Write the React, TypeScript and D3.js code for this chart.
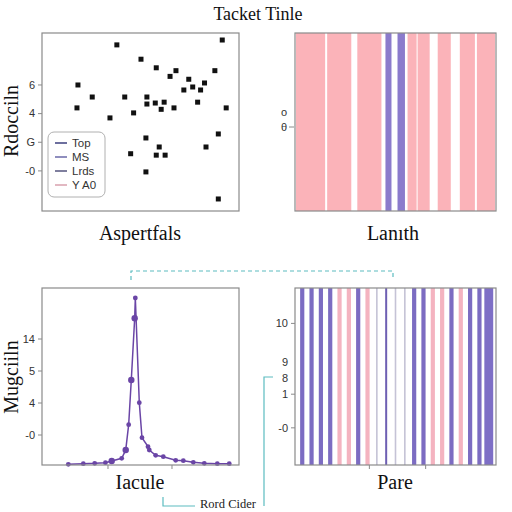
import React from "react";
import * as d3 from "d3";

// ---------- data ----------
const titleText = "Tacket Tinle";

// Panel A: scatter
const scatterX = [3.65, 3.55, 5.1, 7.6, 6.9, 8.4, 9.3, 9.0, 10.05, 10.55, 10.55, 10.65, 10.65, 11.5, 11.6, 11.9, 11.6, 12.1, 12.4, 12.5, 13.0, 13.6, 13.4, 14.4, 14.9, 15.3, 15.8, 16.1, 16.5, 16.65, 17.55, 17.9, 17.9, 18.3, 18.7];
const scatterY = [6.0, 4.4, 5.16, 8.8, 3.7, 5.16, 4.05, 1.2, 7.8, 2.3, -0.07, 5.16, 4.67, 4.74, 7.2, 1.67, 1.1, 4.3, 4.8, 1.1, 6.6, 7.0, 4.4, 5.65, 6.4, 5.86, 4.8, 5.65, 6.14, 1.67, 7.0, 2.58, -1.96, 9.14, 4.4];
const scatterTickValues = [0, 2, 4, 6];
const scatterTickLabels = ["-0", "G", "4", "6"];
const legendNames = ["Top", "MS", "Lrds", "Y A0"];
const legendColors = ["#3d3f7e", "#6a68a8", "#55557e", "#d8a0ae"];

// Panel B: interval bars
const stripeStart = [0.5, 16, 31, 45, 51, 56, 61, 71, 82, 90.5];
const stripeEnd = [15, 28, 43, 48, 54.7, 60.5, 67, 77.5, 89.5, 99.5];
const stripeSeries = ["pink", "pink", "pink", "purple", "purple", "pink", "pink", "pink", "pink", "pink"];
const stripeValue = 10;

// Panel C: line
const lineX = [3.8, 6.14, 7.92, 9.6, 10.58, 12.14, 12.77, 13.23, 13.64, 14.17, 14.27, 14.89, 15.31, 16.25, 16.45, 17.45, 18.64, 20.58, 21.77, 23.33, 25.05, 27.08, 28.95];
const lineY = [-3.66, -3.59, -3.54, -3.46, -3.25, -2.91, -1.875, 1.29, 6.875, 14.59, 17.125, 4.04, -0.34, -1.46, -1.875, -2.54, -2.71, -3.16, -3.21, -3.41, -3.54, -3.59, -3.59];
const lineTickValues = [0, 4, 8, 12];
const lineTickLabels = ["-0", "4", "5", "14"];
const lineXTicks = [10, 20];

// Panel D: stripes
const bandSeries = ["P", "P", "P", "P", "K", "K", "P", "K", "G", "T", "G", "G", "P", "P", "K", "K", "P", "K", "P", "P", "W"];
const bandTickValues = [80, 58, 49, 40, 21];
const bandTickLabels = ["10", "9", "8", "1", "-0"];
const bandTickMarks = [true, false, false, true, true];
const bandXTicks = [0.37, 0.65];

const connectorLabel = "Rord Cider";

// ---------- styles ----------
const SERIF = "'Liberation Serif', 'DejaVu Serif', serif";
const SANS = "'Liberation Sans', Arial, 'DejaVu Sans', sans-serif";
const FRAME = "#8a8a8a";
const TEAL = "#5cbcc0";
const PINK = "#fbb3b9";
const PURPLE = "#8b7bcc";

const L = { x0: 42, x1: 239 };
const R = { x0: 295, x1: 496 };
const TOP = { y0: 33, y1: 211 };
const BOT = { y0: 288, y1: 465 };

export default function App() {
  const sx = d3.scaleLinear().domain([0, 20]).range([L.x0, L.x1]);
  const sy = d3.scaleLinear().domain([-2.8, 9.63]).range([TOP.y1, TOP.y0]);

  const bx = d3.scaleLinear().domain([0, 100]).range([R.x0, R.x1]);
  const by = d3.scaleLinear().domain([0, 10]).range([TOP.y1, TOP.y0]);

  const lx = d3.scaleLinear().domain([-0.3125, 30.47]).range([L.x0, L.x1]);
  const ly = d3.scaleLinear().domain([-3.75, 18.375]).range([BOT.y1, BOT.y0]);
  const linePath = d3
    .line<number>()
    .x((_, i) => lx(lineX[i]))
    .y((d) => ly(d))(lineY);

  const dx = d3
    .scaleBand<number>()
    .domain(d3.range(bandSeries.length))
    .range([R.x0, R.x1])
    .padding(0.55);
  const dy = d3.scaleLinear().domain([0, 100]).range([BOT.y1, BOT.y0]);
  const fx = d3.scaleLinear().domain([0, 1]).range([R.x0, R.x1]);

  const bandStyle = (s: string) => {
    const step = dx.step();
    const bw = dx.bandwidth();
    if (s === "P") return { fill: "#7c6cc2", w: bw };
    if (s === "K") return { fill: "#f4b3c0", w: bw };
    if (s === "G") return { fill: "#c5c3d6", w: 1.6 };
    if (s === "T") return { fill: "#6e5fb3", w: 2 };
    return { fill: "#7e6fc6", w: step * 0.95 };
  };

  return (
    <svg
      width={512}
      height={512}
      style={{ position: "absolute", left: 0, top: 0, background: "#fff" }}
    >
      <rect x={0} y={0} width={512} height={512} fill="#fff" />
      <text x={258} y={20} textAnchor="middle" fontFamily={SERIF} fontSize={18} fill="#111">
        {titleText}
      </text>

      {/* Panel A */}
      <g>
        {scatterX.map((x, i) => (
          <rect key={i} x={sx(x) - 2.5} y={sy(scatterY[i]) - 2.5} width={5} height={5} fill="#111" />
        ))}
        <rect x={L.x0} y={TOP.y0} width={L.x1 - L.x0} height={TOP.y1 - TOP.y0} fill="none" stroke={FRAME} strokeWidth={1.2} />
        {scatterTickValues.map((v, i) => (
          <g key={i} transform={`translate(${L.x0},${sy(v)})`}>
            <line x1={-4} x2={0} stroke={FRAME} />
            <text x={-7} dy="0.35em" textAnchor="end" fontFamily={SANS} fontSize={11} fill="#333">
              {scatterTickLabels[i]}
            </text>
          </g>
        ))}
        <text transform="translate(18,121) rotate(-90)" textAnchor="middle" fontFamily={SERIF} fontSize={20} fill="#111">
          Rdocciln
        </text>
        <text x={140} y={240} textAnchor="middle" fontFamily={SERIF} fontSize={20} fill="#111">
          Aspertfals
        </text>
        <rect x={48} y={132} width={57} height={65} rx={6} fill="#fff" fillOpacity={0.9} stroke="#b0b0b0" />
        {legendNames.map((n, i) => (
          <g key={n} transform={`translate(55,${143 + i * 14})`}>
            <line x1={0} x2={12} stroke={legendColors[i]} strokeWidth={1.5} />
            <text x={17} dy="0.35em" fontFamily={SANS} fontSize={11.5} fill="#333">
              {n}
            </text>
          </g>
        ))}
      </g>

      {/* Panel B */}
      <g>
        {stripeStart.map((s, i) => (
          <rect
            key={i}
            x={bx(s)}
            y={by(stripeValue)}
            width={bx(stripeEnd[i]) - bx(s)}
            height={by(0) - by(stripeValue)}
            fill={stripeSeries[i] === "pink" ? PINK : PURPLE}
          />
        ))}
        <rect x={R.x0} y={TOP.y0} width={R.x1 - R.x0} height={TOP.y1 - TOP.y0} fill="none" stroke={FRAME} strokeWidth={1.2} />
        <text x={284} y={112} dy="0.35em" textAnchor="middle" fontFamily={SANS} fontSize={11} fill="#333">o</text>
        <text x={284} y={127} dy="0.35em" textAnchor="middle" fontFamily={SANS} fontSize={11} fill="#333">θ</text>
        <line x1={289} x2={294} y1={127} y2={127} stroke={FRAME} />
        <text x={393} y={240} textAnchor="middle" fontFamily={SERIF} fontSize={20} fill="#111">
          Lanıth
        </text>
      </g>

      {/* Panel C */}
      <g>
        <path d={linePath || ""} fill="none" stroke="#6a45a6" strokeWidth={1.5} />
        {lineX.map((x, i) => (
          <circle key={i} cx={lx(x)} cy={ly(lineY[i])} r={i === 9 || i === 8 || i === 6 || i === 4 ? 3.2 : 2.4} fill="#6a45a6" />
        ))}
        <rect x={L.x0} y={BOT.y0} width={L.x1 - L.x0} height={BOT.y1 - BOT.y0} fill="none" stroke={FRAME} strokeWidth={1.2} />
        {lineTickValues.map((v, i) => (
          <g key={i} transform={`translate(${L.x0},${ly(v)})`}>
            <line x1={-4} x2={0} stroke={FRAME} />
            <text x={-7} dy="0.35em" textAnchor="end" fontFamily={SANS} fontSize={11} fill="#333">
              {lineTickLabels[i]}
            </text>
          </g>
        ))}
        {lineXTicks.map((v) => (
          <line key={v} x1={lx(v)} x2={lx(v)} y1={BOT.y1} y2={BOT.y1 + 4} stroke={FRAME} />
        ))}
        <text transform="translate(18,377) rotate(-90)" textAnchor="middle" fontFamily={SERIF} fontSize={20} fill="#111">
          Mugciiln
        </text>
        <text x={140} y={489} textAnchor="middle" fontFamily={SERIF} fontSize={20} fill="#111">
          Iacule
        </text>
      </g>

      {/* Panel D */}
      <g>
        {bandSeries.map((s, i) => {
          const st = bandStyle(s);
          const cx = (dx(i) as number) + dx.bandwidth() / 2;
          return (
            <rect key={i} x={cx - st.w / 2} y={dy(100)} width={st.w} height={dy(0) - dy(100)} fill={st.fill} />
          );
        })}
        <rect x={R.x0} y={BOT.y0} width={R.x1 - R.x0} height={BOT.y1 - BOT.y0} fill="none" stroke={FRAME} strokeWidth={1.2} />
        {bandTickValues.map((v, i) => (
          <g key={i} transform={`translate(${R.x0},${dy(v)})`}>
            {bandTickMarks[i] && <line x1={-4} x2={0} stroke={FRAME} />}
            <text x={-7} dy="0.35em" textAnchor="end" fontFamily={SANS} fontSize={11} fill="#333">
              {bandTickLabels[i]}
            </text>
          </g>
        ))}
        {bandXTicks.map((v) => (
          <line key={v} x1={fx(v)} x2={fx(v)} y1={BOT.y1} y2={BOT.y1 + 4} stroke={FRAME} />
        ))}
        <text x={395} y={489} textAnchor="middle" fontFamily={SERIF} fontSize={20} fill="#111">
          Pare
        </text>
      </g>

      {/* Connectors */}
      <path d="M131,280 V271 H393 V280" fill="none" stroke={TEAL} strokeWidth={1.2} strokeDasharray="4,3" />
      <path d="M163,497 V506 H195" fill="none" stroke={TEAL} strokeWidth={1.2} />
      <path d="M264,506 V377 H273" fill="none" stroke={TEAL} strokeWidth={1.2} />
      <text x={200} y={508} fontFamily={SERIF} fontSize={12.5} fill="#222">
        {connectorLabel}
      </text>
    </svg>
  );
}
